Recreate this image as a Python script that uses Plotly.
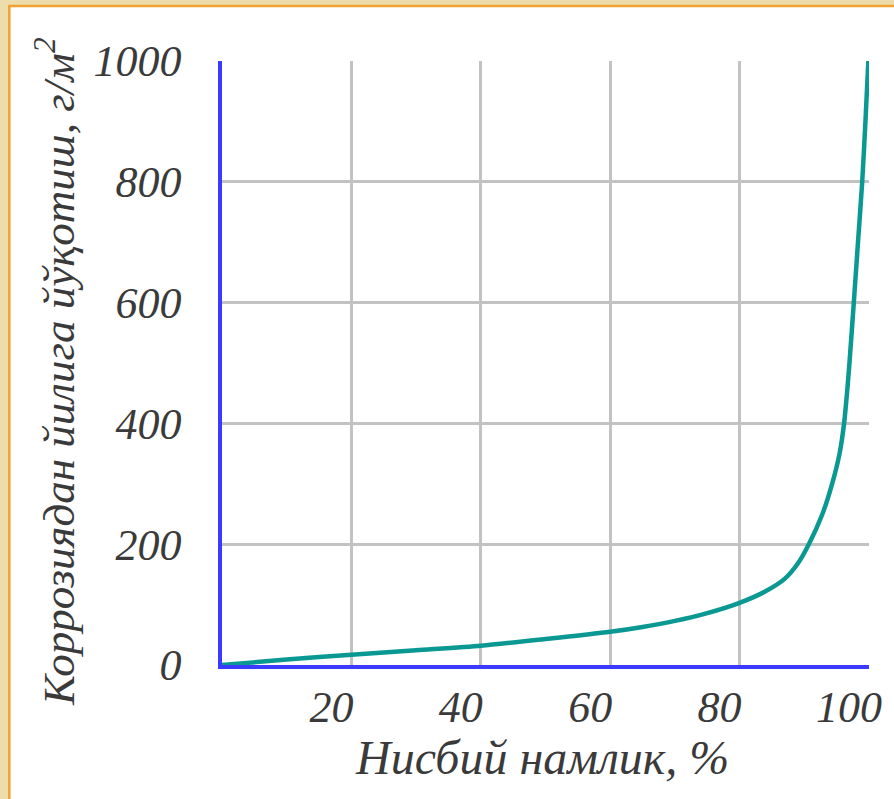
import plotly.graph_objects as go

# Data
humidity = [0, 10, 20, 30, 40, 50, 60, 65, 70, 75, 80, 84, 87, 89, 90.7,
            92.8, 94.3, 95.45, 96.15, 96.6, 96.98, 97.65, 98.3, 98.95, 99.45, 99.9]
loss = [0, 9, 17, 24.5, 32, 43, 55, 63, 73, 86, 103, 122, 143, 168, 200,
        250, 300, 350, 400, 450, 500, 600, 700, 800, 900, 1000]
x_ticks = [20, 40, 60, 80, 100]
y_ticks = [0, 200, 400, 600, 800, 1000]
x_title = "Нисбий намлик, %"
y_title = "Коррозиядан йилига йўқотиш, г/м<sup>2</sup>"

W, H = 894, 799
L, R, T, B = 222, 21, 61, 134
PW, PH = W - L - R, H - T - B

def px(xp):
    return (xp - L) / PW

def py(yp):
    return (H - B - yp) / PH

font_family = "Liberation Serif, Times New Roman, serif"
text_color = "#3a3a3a"

fig = go.Figure()
fig.add_trace(go.Scatter(
    x=humidity, y=loss, mode="lines",
    line=dict(color="#0a9992", width=4.5, shape="spline", smoothing=0.7),
    hoverinfo="skip", showlegend=False, cliponaxis=False,
))

axis_common = dict(
    showgrid=True, gridcolor="#c2c2c2", gridwidth=2.5,
    showline=True, linecolor="#3b3bff", linewidth=3.5,
    zeroline=False, ticks="", layer="below traces",
    tickfont=dict(family=font_family, size=44, color=text_color, style="italic"),
)

fig.update_xaxes(range=[0, 100], tickvals=x_ticks, ticktext=[str(v) for v in x_ticks],
                 ticklabelshift=-20, ticklabelstandoff=0, **axis_common)
fig.update_yaxes(range=[0, 1000], tickvals=y_ticks, ticktext=[str(v) for v in y_ticks],
                 ticklabelstandoff=28, **axis_common)

shapes = [
    dict(type="rect", xref="paper", yref="paper",
         x0=px(8), x1=px(W + 20), y0=py(H + 20), y1=py(6),
         fillcolor="white", line=dict(color="#f2a133", width=2.5), layer="below"),
]

annotations = [
    dict(text=x_title, xref="paper", yref="paper", x=px(544), y=py(757),
         xanchor="center", yanchor="middle", showarrow=False,
         font=dict(family=font_family, size=48, color=text_color, style="italic")),
    dict(text=y_title, xref="paper", yref="paper", x=px(54), y=py(372),
         xanchor="center", yanchor="middle", showarrow=False, textangle=-90,
         font=dict(family=font_family, size=45, color=text_color, style="italic")),
]

fig.update_layout(
    width=W, height=H,
    margin=dict(l=L, r=R, t=T, b=B, pad=0),
    paper_bgcolor="#eedcaa", plot_bgcolor="white",
    shapes=shapes, annotations=annotations,
    showlegend=False,
)

fig.write_html("out.html", config={"displayModeBar": False},
               post_script="document.body.style.margin='0';document.body.style.overflow='hidden';")
